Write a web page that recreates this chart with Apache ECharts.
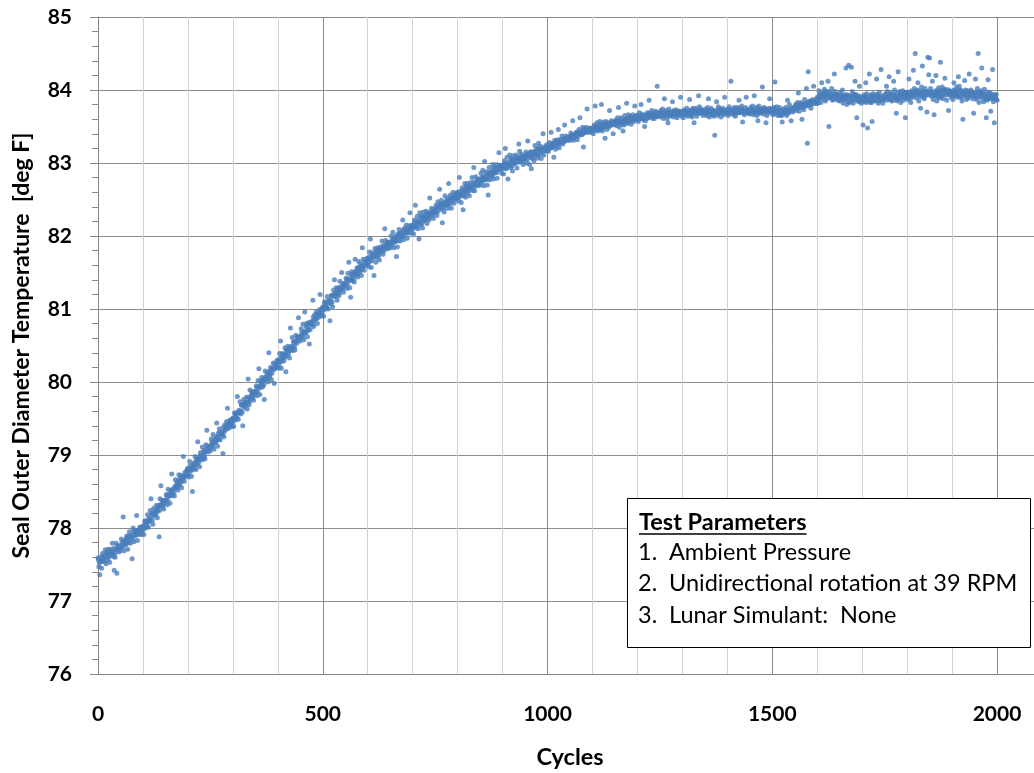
<!DOCTYPE html>
<html><head><meta charset="utf-8">
<script src="https://cdn.jsdelivr.net/npm/echarts@6/dist/echarts.min.js"></script>
<style>html,body{margin:0;padding:0;background:#fff}#c{width:1034px;height:773px}</style>
</head><body><div id="c"></div>
<script>
// Readings every cycle: even-cycle and odd-cycle readings, in four 500-cycle blocks
const cycleStep = 2;
const blockStarts = [0, 500, 1000, 1500];
const xLabelCycles = [0, 500, 1000, 1500, 2000];
const yMin = 76, yMax = 85;

// even cycles (0, 2, 4, ...)
const tempEven0000 = [
77.59,77.47,77.36,77.54,77.45,77.65,77.60,77.54,77.70,77.51,77.65,77.71,77.60,77.53,77.71,77.65,77.79,77.61,77.42,77.60,77.79,77.38,77.76,77.67,77.73,
77.69,77.85,77.76,78.15,77.69,77.83,77.77,77.89,77.71,77.89,77.95,77.79,77.88,77.58,78.00,77.81,77.97,77.90,78.17,77.83,77.97,77.91,78.01,77.98,77.91,
78.02,77.91,78.10,78.09,78.01,78.18,78.01,78.10,78.24,78.40,78.20,78.05,78.27,78.17,78.22,78.31,78.14,78.29,77.88,78.40,78.58,78.38,78.29,78.26,78.37,
78.35,78.46,78.32,78.53,78.45,78.34,78.51,78.74,78.45,78.54,78.44,78.66,78.56,78.63,78.52,78.73,78.59,78.72,78.55,78.71,78.98,78.64,78.72,78.72,78.80,
78.82,78.70,78.91,78.79,78.71,78.50,78.86,78.81,78.98,78.80,78.94,79.18,78.90,78.84,79.03,78.97,79.11,78.94,79.04,78.95,79.14,79.34,79.12,79.04,79.11,
79.06,79.22,79.14,79.28,79.08,79.22,79.17,79.44,79.12,79.30,79.36,79.21,79.30,79.28,79.02,79.25,79.41,79.35,79.46,79.64,79.43,79.37,79.48,79.45,79.39,
79.50,79.39,79.58,79.57,79.49,79.80,79.49,79.58,79.73,79.56,79.69,79.40,79.76,79.65,79.71,79.79,79.63,80.04,79.69,79.89,79.77,79.87,79.78,79.75,79.85,
79.84,79.95,79.81,80.02,80.18,79.83,80.00,80.06,79.93,80.03,79.76,80.15,80.04,80.12,80.00,80.40,80.07,80.20,80.03,80.19,80.26,79.98,80.20,80.20,80.29,
80.30,80.19,80.39,80.56,80.19,80.39,80.35,80.29,80.47,80.14,80.43,80.49,80.39,80.33,80.74,80.46,80.61,80.43,80.54,80.44,80.64,80.53,80.62,80.88,80.61,
80.56,80.73,80.64,80.79,80.58,80.96,80.67,80.80,80.62,80.81,80.52,80.72,80.81,80.79,81.12,80.76,80.92,80.86,80.97,80.80,80.94,80.89,81.20,80.97,80.91
];
const tempEven0500 = [
81.02,80.90,81.10,81.08,81.01,81.17,81.00,81.09,80.84,81.07,81.19,81.03,81.26,81.40,81.21,81.29,81.12,81.27,81.18,81.38,81.26,81.50,81.27,81.23,81.34,
81.32,81.42,81.28,81.49,81.64,81.29,81.16,81.51,81.39,81.48,81.37,81.68,81.48,81.56,81.44,81.65,81.50,81.62,81.46,81.84,81.68,81.53,81.61,81.61,81.69,
81.70,81.58,81.78,81.96,81.57,81.77,81.72,81.46,81.83,81.64,81.78,81.84,81.73,81.67,81.85,81.79,81.93,81.75,81.85,82.10,81.94,81.83,81.91,81.83,81.89,
81.84,82.00,81.91,82.05,81.84,81.98,81.92,81.72,81.85,82.03,82.09,81.93,82.02,81.99,82.22,81.95,82.11,82.04,82.15,81.97,82.10,82.04,82.32,82.11,82.04,
82.15,82.03,82.22,82.42,82.12,82.27,82.10,81.96,82.32,82.15,82.27,82.11,82.33,82.21,82.26,82.34,82.17,82.31,82.22,82.52,82.29,82.38,82.28,82.24,82.34,
82.32,82.42,82.28,82.47,82.39,82.64,82.44,82.49,82.18,82.44,82.33,82.55,82.44,82.50,82.38,82.72,82.44,82.56,82.38,82.53,82.60,82.45,82.53,82.51,82.59,
82.60,82.48,82.80,82.56,82.46,82.66,82.36,82.55,82.72,82.53,82.66,82.72,82.61,82.55,82.73,82.67,82.80,82.62,82.94,82.62,82.81,82.70,82.78,82.69,82.75,
82.70,82.86,82.77,82.90,82.69,83.02,82.77,82.88,82.70,82.56,82.94,82.77,82.86,82.83,82.98,82.78,82.94,82.87,82.98,82.79,82.93,83.14,82.97,82.94,82.86,
82.97,82.85,83.03,83.20,82.92,83.08,82.78,82.98,83.11,82.94,83.05,82.89,83.10,82.99,83.03,83.11,82.93,83.07,83.26,83.16,83.03,83.12,83.02,82.98,83.08,
83.05,83.15,83.00,83.30,83.11,82.98,83.15,82.92,83.06,83.14,83.03,83.24,83.13,83.19,83.07,83.27,83.12,83.23,83.06,83.20,83.40,83.11,83.19,83.17,83.25
];
const tempEven1000 = [
83.23,83.16,83.28,83.21,83.42,83.27,83.25,83.08,83.31,83.19,83.28,83.32,83.46,83.21,83.32,83.28,83.37,83.26,83.32,83.52,83.37,83.31,83.35,83.31,83.34,
83.31,83.41,83.35,83.58,83.31,83.39,83.36,83.42,83.32,83.42,83.46,83.62,83.42,83.39,83.49,83.22,83.47,83.42,83.49,83.74,83.46,83.42,83.48,83.46,83.42,
83.48,83.40,83.52,83.78,83.45,83.55,83.44,83.48,83.57,83.46,83.80,83.44,83.56,83.49,83.34,83.57,83.46,83.54,83.49,83.72,83.52,83.58,83.52,83.40,83.55,
83.53,83.59,83.51,83.62,83.76,83.49,83.59,83.62,83.53,83.44,83.52,83.65,83.57,83.82,83.54,83.66,83.58,83.64,83.53,83.62,83.66,83.57,83.78,83.60,83.65,
83.65,83.57,83.69,83.62,83.80,83.67,83.64,83.59,83.50,83.58,83.66,83.69,83.62,83.86,83.69,83.64,83.72,83.61,83.67,83.61,83.71,83.64,84.05,83.64,83.67,
83.63,83.72,83.66,83.74,83.61,83.88,83.66,83.72,83.61,83.55,83.74,83.64,83.69,83.66,83.84,83.63,83.72,83.67,83.73,83.62,83.70,83.66,83.71,83.90,83.64,
83.70,83.62,83.73,83.71,83.66,83.75,83.64,83.68,83.87,83.65,83.73,83.63,83.75,83.55,83.71,83.75,83.64,83.72,83.92,83.77,83.69,83.74,83.68,83.65,83.70,
83.68,83.74,83.65,83.76,83.88,83.63,83.72,83.75,83.66,83.71,83.64,83.38,83.69,83.84,83.65,83.77,83.68,83.74,83.63,83.72,83.75,83.66,83.90,83.69,83.73,
83.73,83.65,83.77,83.69,84.12,83.74,83.71,83.66,83.76,83.64,83.73,83.76,83.69,83.86,83.75,83.70,83.78,83.56,83.72,83.66,83.76,83.90,83.73,83.68,83.71,
83.67,83.76,83.70,83.78,83.66,83.92,83.70,83.76,83.65,83.58,83.78,83.68,83.73,83.70,84.04,83.67,83.76,83.71,83.55,83.65,83.73,83.70,83.88,83.73,83.68
];
const tempEven1500 = [
83.74,83.66,83.76,84.11,83.68,83.77,83.65,83.69,83.76,83.65,83.71,83.56,83.74,83.68,83.71,83.76,83.65,83.86,83.68,83.80,83.72,83.58,83.72,83.70,83.75,
83.74,83.80,83.72,83.83,83.96,83.71,83.80,83.83,83.60,83.80,83.73,83.87,83.79,84.02,83.27,84.25,83.79,83.85,83.75,83.84,83.87,84.05,83.83,83.82,83.87,
83.90,83.82,83.99,83.90,83.83,84.10,83.94,83.88,84.01,83.85,83.95,83.98,84.12,83.50,83.97,83.91,84.02,83.86,83.93,84.22,83.98,83.89,83.94,83.86,83.90,
83.85,83.97,83.89,84.00,83.82,83.92,83.87,84.30,83.80,83.93,84.34,83.83,83.90,84.31,83.98,83.82,83.94,84.12,83.94,83.62,83.90,83.84,84.05,83.88,83.82,
83.89,83.52,83.93,83.90,84.10,83.95,83.48,83.86,84.22,83.83,83.92,83.57,83.95,83.86,83.89,83.94,84.15,83.90,83.82,83.97,83.87,84.28,83.86,83.82,83.89,
83.88,83.95,84.05,83.98,83.91,84.18,83.93,83.96,83.85,83.93,84.12,84.00,83.90,83.68,83.85,84.25,83.88,83.98,83.83,83.94,83.99,83.86,83.92,83.62,83.96,
83.97,83.87,84.15,83.91,83.83,83.99,83.94,84.27,84.02,84.50,83.96,84.00,84.10,83.85,83.99,83.75,84.04,84.33,83.97,83.88,84.02,83.93,83.70,84.45,84.21,
84.44,84.02,83.94,84.12,83.87,83.66,83.92,84.20,83.85,83.99,84.03,83.89,84.38,83.93,84.04,83.88,84.00,84.16,84.01,83.86,83.97,83.72,83.98,83.96,83.90,
83.98,83.87,84.10,83.99,83.92,84.04,83.90,84.18,84.05,83.90,83.99,83.85,83.60,83.93,84.13,84.00,83.87,83.97,83.89,84.22,83.93,84.00,83.92,83.88,83.68,
83.92,84.15,83.87,84.02,84.50,83.83,83.96,83.99,84.30,83.95,83.84,84.01,83.91,83.62,83.86,84.14,83.88,83.97,83.71,83.93,84.28,83.84,83.55,83.88,83.94,
83.86
];

// odd cycles (1, 3, 5, ...)
const tempOdd0000 = [
77.56,77.52,77.60,77.56,77.54,77.59,77.62,77.58,77.61,77.67,77.57,77.65,77.63,77.68,77.63,77.67,77.65,77.72,77.65,77.70,77.72,77.70,77.75,77.71,77.75,
77.75,77.80,77.74,77.81,77.80,77.78,77.86,77.81,77.85,77.80,77.89,77.86,77.90,77.85,77.95,77.89,77.92,77.96,77.91,77.96,77.95,78.01,77.96,78.01,77.97,
78.03,77.99,78.08,78.04,78.03,78.09,78.13,78.09,78.13,78.19,78.11,78.20,78.18,78.24,78.19,78.25,78.23,78.31,78.24,78.30,78.33,78.32,78.37,78.34,78.38,
78.38,78.43,78.38,78.46,78.45,78.44,78.52,78.48,78.52,78.48,78.57,78.55,78.60,78.55,78.66,78.60,78.64,78.68,78.64,78.69,78.69,78.76,78.71,78.77,78.73,
78.80,78.76,78.85,78.81,78.79,78.86,78.89,78.86,78.89,78.95,78.87,78.95,78.94,78.99,78.94,79.00,78.98,79.06,78.99,79.04,79.08,79.06,79.12,79.08,79.12,
79.12,79.17,79.12,79.19,79.19,79.17,79.25,79.21,79.25,79.21,79.30,79.28,79.32,79.27,79.38,79.32,79.36,79.40,79.36,79.41,79.41,79.47,79.42,79.48,79.44,
79.51,79.47,79.56,79.53,79.51,79.58,79.61,79.58,79.61,79.68,79.59,79.68,79.67,79.72,79.68,79.73,79.72,79.79,79.73,79.78,79.82,79.81,79.86,79.83,79.87,
79.87,79.92,79.87,79.94,79.94,79.92,80.01,79.96,80.01,79.96,80.06,80.04,80.08,80.04,80.14,80.09,80.12,80.17,80.12,80.18,80.17,80.24,80.19,80.25,80.21,
80.28,80.24,80.33,80.29,80.28,80.34,80.38,80.34,80.38,80.44,80.36,80.44,80.43,80.48,80.43,80.49,80.47,80.55,80.48,80.54,80.57,80.56,80.61,80.58,80.62,
80.62,80.67,80.62,80.69,80.69,80.67,80.76,80.71,80.76,80.71,80.81,80.79,80.83,80.79,80.89,80.84,80.87,80.92,80.87,80.93,80.92,80.99,80.94,81.00,80.96
];
const tempOdd0500 = [
81.03,80.99,81.08,81.04,81.02,81.09,81.12,81.09,81.12,81.18,81.10,81.18,81.17,81.22,81.17,81.23,81.21,81.29,81.22,81.27,81.31,81.29,81.35,81.31,81.35,
81.35,81.40,81.34,81.41,81.40,81.39,81.47,81.42,81.46,81.41,81.51,81.48,81.52,81.47,81.57,81.52,81.55,81.59,81.54,81.59,81.59,81.65,81.60,81.65,81.61,
81.68,81.64,81.72,81.68,81.66,81.72,81.75,81.71,81.74,81.80,81.71,81.79,81.77,81.82,81.77,81.82,81.80,81.87,81.80,81.85,81.88,81.86,81.91,81.87,81.91,
81.90,81.94,81.88,81.95,81.94,81.92,82.00,81.95,81.99,81.94,82.03,82.00,82.04,81.99,82.08,82.02,82.05,82.09,82.04,82.09,82.08,82.14,82.09,82.14,82.10,
82.15,82.11,82.19,82.15,82.13,82.19,82.22,82.18,82.20,82.26,82.17,82.25,82.23,82.28,82.23,82.28,82.26,82.32,82.25,82.30,82.33,82.31,82.36,82.32,82.36,
82.34,82.39,82.33,82.40,82.39,82.36,82.44,82.39,82.43,82.38,82.46,82.43,82.47,82.42,82.52,82.45,82.48,82.52,82.47,82.52,82.50,82.56,82.51,82.56,82.52,
82.57,82.53,82.61,82.57,82.55,82.61,82.63,82.59,82.62,82.68,82.59,82.67,82.65,82.69,82.64,82.69,82.67,82.74,82.67,82.71,82.74,82.72,82.77,82.73,82.77,
82.75,82.80,82.74,82.81,82.79,82.77,82.85,82.80,82.84,82.78,82.87,82.84,82.88,82.82,82.92,82.86,82.89,82.92,82.87,82.92,82.91,82.96,82.91,82.96,82.92,
82.97,82.93,83.00,82.96,82.93,82.99,83.01,82.97,82.99,83.05,82.96,83.03,83.01,83.05,83.00,83.04,83.02,83.08,83.01,83.05,83.08,83.05,83.10,83.05,83.09,
83.07,83.12,83.05,83.12,83.10,83.08,83.15,83.10,83.13,83.08,83.16,83.13,83.16,83.10,83.20,83.13,83.16,83.19,83.14,83.18,83.17,83.22,83.17,83.21,83.17
];
const tempOdd1000 = [
83.21,83.19,83.24,83.21,83.21,83.24,83.26,83.24,83.25,83.29,83.23,83.28,83.27,83.30,83.27,83.30,83.29,83.33,83.29,83.32,83.33,83.32,83.36,83.33,83.36,
83.34,83.38,83.34,83.38,83.37,83.36,83.40,83.38,83.40,83.37,83.42,83.40,83.42,83.39,83.45,83.41,83.43,83.45,83.42,83.45,83.44,83.47,83.45,83.47,83.45,
83.48,83.46,83.50,83.47,83.47,83.50,83.51,83.48,83.50,83.53,83.47,83.52,83.50,83.53,83.50,83.53,83.51,83.55,83.51,83.53,83.55,83.53,83.56,83.54,83.56,
83.54,83.57,83.54,83.57,83.56,83.55,83.59,83.56,83.58,83.55,83.60,83.57,83.60,83.57,83.62,83.58,83.60,83.62,83.58,83.61,83.60,83.63,83.60,83.63,83.60,
83.63,83.60,83.63,83.61,83.61,83.63,83.65,83.62,83.64,83.66,83.61,83.65,83.64,83.67,83.63,83.66,83.65,83.68,83.64,83.66,83.68,83.66,83.69,83.67,83.68,
83.66,83.69,83.65,83.68,83.67,83.65,83.69,83.67,83.68,83.65,83.70,83.67,83.69,83.66,83.71,83.67,83.68,83.70,83.66,83.69,83.68,83.71,83.68,83.70,83.67,
83.70,83.67,83.71,83.68,83.67,83.70,83.71,83.68,83.69,83.72,83.67,83.71,83.69,83.72,83.68,83.71,83.69,83.72,83.68,83.70,83.71,83.69,83.72,83.69,83.71,
83.69,83.72,83.68,83.71,83.70,83.68,83.72,83.69,83.71,83.67,83.72,83.69,83.71,83.68,83.73,83.69,83.70,83.72,83.68,83.71,83.69,83.72,83.69,83.71,83.68,
83.71,83.68,83.72,83.69,83.68,83.71,83.72,83.69,83.70,83.73,83.68,83.71,83.70,83.73,83.69,83.72,83.70,83.73,83.69,83.71,83.72,83.70,83.73,83.70,83.72,
83.70,83.73,83.69,83.72,83.71,83.69,83.73,83.70,83.72,83.69,83.74,83.71,83.73,83.70,83.75,83.71,83.72,83.74,83.70,83.73,83.72,83.75,83.72,83.74,83.71
];
const tempOdd1500 = [
83.74,83.71,83.74,83.71,83.69,83.72,83.72,83.69,83.69,83.72,83.65,83.70,83.68,83.72,83.68,83.72,83.70,83.74,83.70,83.73,83.74,83.73,83.76,83.74,83.76,
83.75,83.79,83.75,83.78,83.78,83.76,83.80,83.77,83.80,83.76,83.81,83.79,83.81,83.78,83.84,83.80,83.81,83.84,83.80,83.83,83.82,83.85,83.82,83.85,83.82,
83.89,83.86,83.95,83.92,83.89,83.94,83.96,83.91,83.93,83.98,83.88,83.94,83.91,83.95,83.89,83.93,83.89,83.95,83.87,83.91,83.93,83.89,83.93,83.88,83.91,
83.89,83.93,83.86,83.92,83.90,83.87,83.94,83.88,83.91,83.84,83.92,83.88,83.91,83.85,83.94,83.87,83.89,83.92,83.86,83.89,83.87,83.92,83.86,83.90,83.85,
83.89,83.84,83.91,83.86,83.83,83.88,83.90,83.85,83.88,83.93,83.83,83.90,83.87,83.91,83.85,83.89,83.86,83.93,83.85,83.89,83.91,83.88,83.92,83.87,83.90,
83.89,83.93,83.86,83.92,83.90,83.87,83.94,83.88,83.91,83.86,83.94,83.90,83.93,83.87,83.96,83.89,83.91,83.95,83.89,83.93,83.91,83.96,83.90,83.94,83.89,
83.95,83.90,83.97,83.92,83.89,83.94,83.96,83.91,83.93,83.98,83.89,83.96,83.93,83.97,83.91,83.95,83.92,83.98,83.90,83.94,83.97,83.94,83.98,83.93,83.96,
83.94,83.98,83.91,83.97,83.95,83.92,83.99,83.93,83.96,83.90,83.98,83.94,83.97,83.91,84.00,83.94,83.96,83.99,83.93,83.97,83.95,84.00,83.94,83.98,83.93,
83.98,83.93,84.00,83.95,83.92,83.97,83.99,83.94,83.96,84.00,83.90,83.97,83.94,83.98,83.92,83.96,83.93,83.99,83.91,83.95,83.97,83.94,83.97,83.92,83.95,
83.93,83.97,83.90,83.96,83.94,83.90,83.97,83.91,83.94,83.88,83.95,83.91,83.94,83.88,83.97,83.89,83.91,83.94,83.88,83.92,83.89,83.94,83.88,83.92,83.87
];

const evenBlocks = [tempEven0000, tempEven0500, tempEven1000, tempEven1500];
const oddBlocks = [tempOdd0000, tempOdd0500, tempOdd1000, tempOdd1500];
const points = [];
evenBlocks.forEach((arr, b) => arr.forEach((t, i) => points.push([blockStarts[b] + i * cycleStep, t])));
oddBlocks.forEach((arr, b) => arr.forEach((t, i) => points.push([blockStarts[b] + i * cycleStep + 1, t])));

const FONT = 'Lato';
const chart = echarts.init(document.getElementById('c'), null, {renderer: 'canvas'});

function textWidth(str, font) {
  const ctx = document.createElement('canvas').getContext('2d');
  ctx.font = font;
  return ctx.measureText(str).width;
}
const titleFont = 'bold 23.5px ' + FONT;
const bodyFont = '23.5px ' + FONT;
const headW = textWidth('Test Parameters', titleFont);

const boxX = 627, boxY = 498, boxW = 403, boxH = 149;
const legendLines = [
  ['1.', 'Ambient Pressure'],
  ['2.', 'Unidirectional rotation at 39 RPM'],
  ['3.', 'Lunar Simulant:  None']
];
const graphicEls = [
  {type: 'rect', z: 100, shape: {x: boxX + 0.5, y: boxY + 0.5, width: boxW, height: boxH},
   style: {fill: '#fff', stroke: '#000', lineWidth: 1}},
  {type: 'text', z: 101, x: 639, y: 522,
   style: {text: 'Test Parameters', font: titleFont, fill: '#000', verticalAlign: 'middle', textVerticalAlign: 'middle'}},
  {type: 'line', z: 101, shape: {x1: 639, y1: 534, x2: 639 + headW, y2: 534},
   style: {stroke: '#000', lineWidth: 1.5}}
];
legendLines.forEach((ln, i) => {
  const y = 552 + i * 31.5;
  graphicEls.push({type: 'text', z: 101, x: 638, y: y,
    style: {text: ln[0], font: bodyFont, fill: '#000', verticalAlign: 'middle', textVerticalAlign: 'middle'}});
  graphicEls.push({type: 'text', z: 101, x: 669, y: y,
    style: {text: ln[1], font: bodyFont, fill: '#000', verticalAlign: 'middle', textVerticalAlign: 'middle'}});
});

const option = {
  backgroundColor: '#fff',
  animation: false,
  grid: {left: 98, top: 17, right: -8, bottom: 99, containLabel: false, outerBoundsMode: 'none'},
  xAxis: {
    type: 'value', min: 0, max: 2100, interval: 100,
    axisLine: {show: true, lineStyle: {color: '#868686', width: 1}},
    axisTick: {show: false},
    axisLabel: {
      formatter: v => (xLabelCycles.indexOf(v) >= 0 ? String(v) : ''),
      fontFamily: FONT, fontWeight: 'bold', fontSize: 21, color: '#000', margin: 30
    },
    splitLine: {show: true, lineStyle: {color: ['#8c8c8c', '#d2d2d2', '#d2d2d2', '#d2d2d2', '#d2d2d2'], width: 1}},
    name: 'Cycles', nameLocation: 'middle', nameGap: 71,
    nameTextStyle: {fontFamily: FONT, fontWeight: 'bold', fontSize: 23.5, color: '#000'}
  },
  yAxis: {
    type: 'value', min: yMin, max: yMax, interval: 1,
    axisLine: {show: true, lineStyle: {color: '#868686', width: 1}},
    axisTick: {show: true, length: 8, lineStyle: {color: '#868686'}},
    minorTick: {show: true, splitNumber: 5, length: 6, lineStyle: {color: '#868686'}},
    axisLabel: {fontFamily: FONT, fontWeight: 'bold', fontSize: 21, color: '#000', margin: 26},
    splitLine: {show: true, lineStyle: {color: '#8c8c8c', width: 1}},
    name: 'Seal Outer Diameter Temperature  [deg F]', nameLocation: 'middle', nameGap: 65, nameRotate: 90,
    nameTextStyle: {fontFamily: FONT, fontWeight: 'bold', fontSize: 23, color: '#000'}
  },
  series: [{
    type: 'scatter', data: points, symbol: 'circle', symbolSize: 5,
    itemStyle: {color: '#4a7ebb'}, silent: true
  }],
  graphic: graphicEls
};
chart.setOption(option);
</script>
</body></html>
